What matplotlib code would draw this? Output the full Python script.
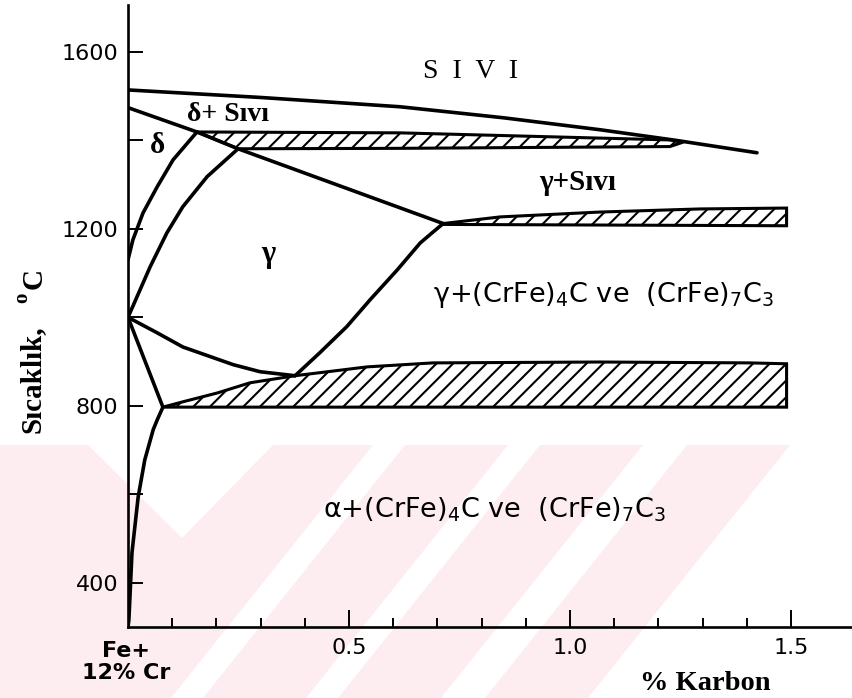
import matplotlib.pyplot as plt
from matplotlib.patches import Polygon
import numpy as np

plt.rcParams['hatch.linewidth'] = 1.5
plt.rcParams['mathtext.default'] = 'regular'

W, H = 852, 698

# phase boundaries as (% karbon, sicaklik degC)
liquidus_x = [0.0, 0.3, 0.615, 0.85, 1.068, 1.24, 1.423]
liquidus_t = [1514, 1497, 1476, 1451, 1424, 1400, 1372]
delta_liq_x = [0.0, 0.156]
delta_liq_t = [1474, 1419]
gamma_liq_x = [0.156, 0.249, 0.713]
gamma_liq_t = [1419, 1381, 1212]
delta_solvus_x = [0.156, 0.102, 0.066, 0.034, 0.011, 0.0]
delta_solvus_t = [1419, 1356, 1295, 1236, 1175, 1130]
gamma_delta_x = [0.249, 0.179, 0.124, 0.088, 0.050, 0.0]
gamma_delta_t = [1381, 1318, 1250, 1191, 1114, 1000]
gamma_carb_x = [0.713, 0.688, 0.661, 0.609, 0.548, 0.495, 0.434, 0.378]
gamma_carb_t = [1212, 1191, 1168, 1107, 1040, 979, 920, 868]
gamma_alpha_x = [0.0, 0.066, 0.124, 0.238, 0.299, 0.378]
gamma_alpha_t = [1000, 965, 933, 893, 877, 868]
alpha_gamma_x = [0.0, 0.079]
alpha_gamma_t = [1000, 797]
alpha_solvus_x = [0.079, 0.066, 0.057, 0.038, 0.023, 0.009, 0.002, 0.0]
alpha_solvus_t = [797, 768, 746, 678, 594, 468, 316, 300]

# three-phase bands (upper edge, lower edge)
band1400_top_x = [0.156, 0.615, 1.226, 1.256]
band1400_top_t = [1419, 1417, 1401, 1396]
band1400_bot_x = [0.249, 0.615, 1.226, 1.256]
band1400_bot_t = [1381, 1382, 1386, 1396]
band1200_top_x = [0.713, 0.842, 1.068, 1.294, 1.49]
band1200_top_t = [1212, 1227, 1238, 1245, 1247]
band1200_bot_x = [0.713, 1.49]
band1200_bot_t = [1210, 1207]
band800_top_x = [0.079, 0.124, 0.202, 0.276, 0.378, 0.541, 0.69, 1.068, 1.407, 1.49]
band800_top_t = [797, 809, 829, 852, 868, 888, 897, 899, 897, 895]
band800_bot_x = [0.079, 1.49]
band800_bot_t = [797, 797]

y_ticks = [400, 600, 800, 1000, 1200, 1400, 1600]
y_labels = ['400', '', '800', '', '1200', '', '1600']
x_major = [0.5, 1.0, 1.5]
x_minor = [0.1, 0.2, 0.3, 0.4, 0.6, 0.7, 0.8, 0.9, 1.1, 1.2, 1.3, 1.4]


def fp(x, y):
    return x / W, 1 - y / H


fig = plt.figure(figsize=(W / 100, H / 100), dpi=100)

# faint pink stripes behind the lower half
bg = fig.add_axes([0, 0, 1, 1], zorder=0)
bg.set_xlim(0, W)
bg.set_ylim(H, 0)
bg.axis('off')
pink = '#fdedf0'
bg.add_patch(Polygon([(0, 445), (790, 445), (588, 698), (0, 698)], color=pink, lw=0))
for shape in ([(88, 445), (273, 445), (182, 538)],
              [(373, 445), (405, 445), (203, 698), (171, 698)],
              [(508, 445), (540, 445), (338, 698), (306, 698)],
              [(643, 445), (687, 445), (485, 698), (441, 698)]):
    bg.add_patch(Polygon(shape, color='white', lw=0))

ax = fig.add_axes([128 / W, 71 / H, 724 / W, 622 / H], zorder=1)
ax.set_facecolor('none')
ax.set_xlim(0, 1.638)
ax.set_ylim(300, 1706)

lw = 2.6
for xs, ts in [(liquidus_x, liquidus_t), (delta_liq_x, delta_liq_t),
               (gamma_liq_x, gamma_liq_t), (delta_solvus_x, delta_solvus_t),
               (gamma_delta_x, gamma_delta_t), (gamma_carb_x, gamma_carb_t),
               (gamma_alpha_x, gamma_alpha_t), (alpha_gamma_x, alpha_gamma_t),
               (alpha_solvus_x, alpha_solvus_t)]:
    ax.plot(xs, ts, color='black', lw=lw, solid_capstyle='round',
            solid_joinstyle='round')

for tx, tt, bx, bt in [(band1400_top_x, band1400_top_t, band1400_bot_x, band1400_bot_t),
                       (band1200_top_x, band1200_top_t, band1200_bot_x, band1200_bot_t),
                       (band800_top_x, band800_top_t, band800_bot_x, band800_bot_t)]:
    xs = list(tx) + list(bx)[::-1]
    ts = list(tt) + list(bt)[::-1]
    ax.fill(xs, ts, facecolor='white', edgecolor='black', hatch='//', lw=2.2)

for s in ['top', 'right']:
    ax.spines[s].set_visible(False)
for s in ['left', 'bottom']:
    ax.spines[s].set_linewidth(1.9)

ax.set_yticks(y_ticks)
ax.set_yticklabels(y_labels)
ax.set_xticks(x_major)
ax.set_xticklabels(['0.5', '1.0', '1.5'])
ax.set_xticks(x_minor, minor=True)
ax.tick_params(axis='y', direction='in', length=11, width=1.4, pad=7, labelsize=16)
ax.tick_params(axis='x', which='major', direction='in', length=12, width=1.4, pad=8,
               labelsize=16)
ax.tick_params(axis='x', which='minor', direction='in', length=6.5, width=1.4)

serif = 'Liberation Serif'
ax.text(0.774, 1555, 'S  I  V  I', family=serif, fontsize=20, ha='center', va='center')
ax.text(0.226, 1458, 'δ+ Sıvı', family=serif, fontsize=20, fontweight='bold',
        ha='center', va='center')
ax.text(0.066, 1388, 'δ', family=serif, fontsize=21, fontweight='bold',
        ha='center', va='center')
ax.text(0.317, 1141, 'γ', family=serif, fontsize=22, fontweight='bold',
        ha='center', va='center')
ax.text(1.018, 1304, 'γ+Sıvı', family=serif, fontsize=21, fontweight='bold',
        ha='center', va='center')
ax.text(0.690, 1035, 'γ+(CrFe)$_4$C ve  (CrFe)$_7$C$_3$', fontsize=19.5,
        ha='left', va='baseline')
ax.text(0.441, 547, 'α+(CrFe)$_4$C ve  (CrFe)$_7$C$_3$', fontsize=19.5,
        ha='left', va='baseline')

fig.text(*fp(126, 641), 'Fe+\n12% Cr', fontsize=16, fontweight='bold',
         ha='center', va='top', multialignment='center', linespacing=1.15)
fig.text(*fp(705, 684), '% Karbon', family=serif, fontsize=20.5, fontweight='bold',
         ha='center', va='center')

fig.text(*fp(40, 433), 'Sıcaklık,', family=serif, fontsize=21, fontweight='bold',
         rotation=90, rotation_mode='anchor', ha='left', va='baseline')
fig.text(*fp(27, 303), 'o', family=serif, fontsize=15, fontweight='bold',
         rotation=90, rotation_mode='anchor', ha='left', va='baseline')
fig.text(*fp(42, 289), 'C', family=serif, fontsize=21, fontweight='bold',
         rotation=90, rotation_mode='anchor', ha='left', va='baseline')

fig.savefig('out.png', dpi=100)
